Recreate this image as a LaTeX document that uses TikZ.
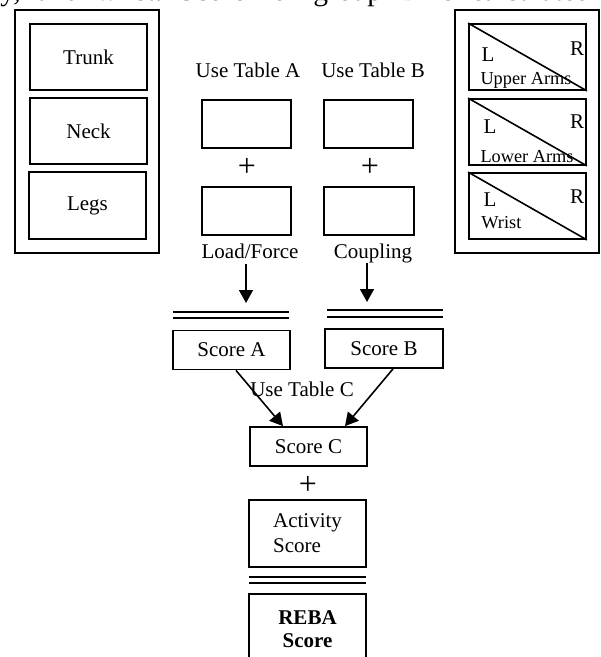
\documentclass[tikz,border=0pt]{standalone}
\usepackage{fontspec}
\setmainfont{Liberation Serif}
\usetikzlibrary{arrows.meta}
\begin{document}
\begin{tikzpicture}[x=0.5pt,y=-0.5pt,
  box/.style={draw,line width=0.9pt,inner sep=0pt,font=\fontsize{10.5}{12.5}\selectfont},
  grp/.style={box,minimum width=72pt,minimum height=121.5pt},
  part/.style={box,minimum width=58.5pt,minimum height=33pt},
  tbl/.style={box,minimum width=44.5pt,minimum height=24pt},
  score/.style={box,minimum width=58.5pt,minimum height=19.5pt},
  txt/.style={inner sep=0pt,font=\fontsize{10.5}{12.5}\selectfont},
  small/.style={inner sep=0pt,font=\fontsize{9.15}{11}\selectfont},
  plus/.style={inner sep=0pt,font=\fontsize{16}{17}\selectfont},
  arr/.style={line width=0.8pt,-{Triangle[length=6.5pt,width=7pt]}},
  dbl/.style={line width=0.9pt}]
\useasboundingbox (0,0) rectangle (600,657);
\begin{scope}
\clip (0,0) rectangle (600,657);
% clipped line of text at the top
\node[anchor=base west,inner sep=0pt,font=\fontsize{14.75}{16}\selectfont] (toptext) at (0,1)
  {\hbox to 295pt{y,\hfil and\hfil wrist.\hfil Score\hfil for\hfil group\hfil B\hfil is\hfil calculated}};

% left group
\node[grp] (lgrp) at (87,131.5) {};
\node[part] (trunk) at (88.5,57) {Trunk};
\node[part] (neck) at (88.5,131) {Neck};
\node[part,minimum height=33.5pt] (legs) at (87.5,205.5) {Legs};

% right group
\node[grp] (rgrp) at (527,131.5) {};
\node[part] (uarm) at (527.5,57) {};
\node[part] (larm) at (527.5,132) {};
\node[part] (wrist) at (527.5,206) {};
\draw[line width=0.8pt] (uarm.north west) -- (uarm.south east);
\draw[line width=0.8pt] (larm.north west) -- (larm.south east);
\draw[line width=0.8pt] (wrist.north west) -- (wrist.south east);
\node[txt] (uL) at (488,55) {L};
\node[txt] (uR) at (577,49) {R};
\node[small] (ut) at (526,80) {Upper Arms};
\node[txt] (lL) at (490,127) {L};
\node[txt] (lR) at (577,122) {R};
\node[small] (lt) at (527,157) {Lower Arms};
\node[txt] (wL) at (490,200) {L};
\node[txt] (wR) at (577,197) {R};
\node[small,anchor=west] (wt) at (481,223) {Wrist};

% center column
\node[txt,anchor=base] (utA) at (248,78) {Use Table A};
\node[txt,anchor=base] (utB) at (373,78) {Use Table B};
\node[tbl] (a1) at (246.5,124) {};
\node[tbl] (b1) at (368.5,124) {};
\node[plus] (pA) at (247,167) {+};
\node[plus] (pB) at (370,167) {+};
\node[tbl] (a2) at (246.5,211) {};
\node[tbl,minimum width=45pt] (b2) at (369,211) {};
\node[txt,anchor=base] (load) at (250,259) {Load/Force};
\node[txt,anchor=base] (coup) at (373,259) {Coupling};

\coordinate (aA1) at (246,264);
\coordinate (aA2) at (246,303);
\coordinate (aB1) at (367,263);
\coordinate (aB2) at (367,302);
\draw[arr] (aA1) -- (aA2);
\draw[arr] (aB1) -- (aB2);

\draw[dbl] (173,312) -- (289,312);
\draw[dbl] (173,318) -- (289,318);
\draw[dbl] (327,310) -- (443,310);
\draw[dbl] (327,317) -- (443,317);

\node[score] (scA) at (231.5,350) {Score A};
\node[score,minimum width=59pt] (scB) at (384,348.5) {Score B};
\node[score] (scC) at (308.5,446.5) {Score C};
\node[txt] (utC) at (302,389) {Use Table C};
\draw[arr] ([xshift=2.25pt]scA.south) -- ([xshift=-12.75pt]scC.north);
\draw[arr] ([xshift=4.5pt]scB.south) -- ([xshift=18.25pt]scC.north);

\node[plus] (pC) at (308,485) {+};
\node[box,minimum width=58.5pt,minimum height=33.5pt,align=left] (act) at (307.5,533.5) {Activity\\Score};
\draw[dbl] (249,577) -- (366,577);
\draw[dbl] (249,583) -- (366,583);
\node[box,minimum width=58.5pt,minimum height=35pt,align=center,font=\fontsize{10.5}{11.5}\selectfont\bfseries] (reba) at (307.5,629) {REBA\\Score};
\end{scope}
\end{tikzpicture}
\end{document}
